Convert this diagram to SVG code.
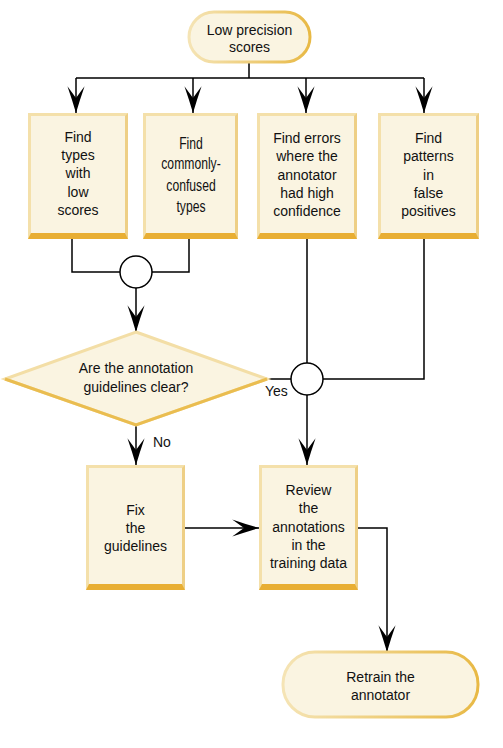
<svg xmlns="http://www.w3.org/2000/svg" width="503" height="748" viewBox="0 0 503 748">
<defs>
<linearGradient id="tg" x1="0" y1="0" x2="1" y2="0">
<stop offset="0" stop-color="#F5E4B5"/>
<stop offset="1" stop-color="#E8B945"/>
</linearGradient>
<marker id="ah" markerUnits="userSpaceOnUse" markerWidth="30" markerHeight="20" viewBox="-26 -9 28 18" refX="0" refY="0" orient="auto">
<path d="M0,0 Q-12,-3.5 -25,-8 L-14,0 L-25,8 Q-12,3.5 0,0 Z" fill="#000"/>
</marker>
<style>
text{font-family:"Liberation Sans",Arial,sans-serif;font-size:14px;fill:#111;text-anchor:middle}
.lbl{text-anchor:start}
.cond{font-size:16px}
.frame{fill:#F4E0AA}
.face{fill:#FAF4E1}
.rbev{fill:#EECF85}
.bbev{fill:#E8AE33}
.term{fill:#FAF4E1;stroke:url(#tg);stroke-width:3}
.ln{fill:none;stroke:#000;stroke-width:1.5}
.arr{fill:none;stroke:#000;stroke-width:1.5;marker-end:url(#ah)}
.jn{fill:#fff;stroke:#000;stroke-width:1.5}
</style>
</defs>

<g id="connectors">
<path class="ln" d="M249,62 V78 M76,78 H424"/>
<path class="arr" d="M76,78 V113"/>
<path class="arr" d="M193,78 V113"/>
<path class="arr" d="M306,78 V113"/>
<path class="arr" d="M424,78 V113"/>
<path class="ln" d="M72,239 V272 H120 M189,239 V272 H152"/>
<path class="arr" d="M136,288 V332"/>
<path class="ln" d="M267,379 H291 M307,239 V363 M424,239 V379 H323"/>
<path class="arr" d="M307,395 V465"/>
<path class="arr" d="M136,425 V465"/>
<path class="arr" d="M185,528 H259"/>
<path class="arr" d="M358,528 H387 V652"/>
<circle class="jn" cx="136" cy="272" r="16"/>
<circle class="jn" cx="307" cy="379" r="16"/>
<text class="lbl" x="265" y="396">Yes</text>
<text class="lbl" x="153" y="447">No</text>
</g>

<g id="start">
<rect class="term" x="189" y="12" width="121" height="50" rx="25"/>
<text x="249.5" y="35">Low precision</text>
<text x="249.5" y="52">scores</text>
</g>

<g id="box1">
<rect class="frame" x="28" y="113" width="100" height="126"/>
<polygon class="rbev" points="125,116 128,113 128,239 125,233"/>
<rect class="face" x="31" y="116" width="94" height="117"/>
<polygon class="bbev" points="31,233 125,233 128,239 28,239"/>
<text x="78" y="142">Find</text>
<text x="78" y="160">types</text>
<text x="78" y="178">with</text>
<text x="78" y="197">low</text>
<text x="78" y="215">scores</text>
</g>

<g id="box2">
<rect class="frame" x="143" y="113" width="95" height="126"/>
<polygon class="rbev" points="235,116 238,113 238,239 235,233"/>
<rect class="face" x="146" y="116" width="89" height="117"/>
<polygon class="bbev" points="146,233 235,233 238,239 143,239"/>
<g transform="translate(191,0) scale(0.76,1)">
<text class="cond" x="0" y="149">Find</text>
<text class="cond" x="0" y="169">commonly-</text>
<text class="cond" x="0" y="191">confused</text>
<text class="cond" x="0" y="212">types</text>
</g>
</g>

<g id="box3">
<rect class="frame" x="257" y="113" width="100" height="126"/>
<polygon class="rbev" points="354,116 357,113 357,239 354,233"/>
<rect class="face" x="260" y="116" width="94" height="117"/>
<polygon class="bbev" points="260,233 354,233 357,239 257,239"/>
<text x="307" y="143">Find errors</text>
<text x="307" y="161">where the</text>
<text x="307" y="180">annotator</text>
<text x="307" y="198">had high</text>
<text x="307" y="216">confidence</text>
</g>

<g id="box4">
<rect class="frame" x="378" y="113" width="101" height="126"/>
<polygon class="rbev" points="476,116 479,113 479,239 476,233"/>
<rect class="face" x="381" y="116" width="95" height="117"/>
<polygon class="bbev" points="381,233 476,233 479,239 378,239"/>
<text x="428.5" y="143">Find</text>
<text x="428.5" y="161">patterns</text>
<text x="428.5" y="180">in</text>
<text x="428.5" y="198">false</text>
<text x="428.5" y="216">positives</text>
</g>

<g id="decision">
<polygon points="136,332 267,379 136,425 5,379" fill="#FAF4E1" stroke="#F3DEA6" stroke-width="3" stroke-linejoin="miter"/>
<polyline points="5,379 136,425 267,379" fill="none" stroke="#EABD50" stroke-width="3"/>
<text x="136" y="373">Are the annotation</text>
<text x="136" y="392">guidelines clear?</text>
</g>

<g id="fix">
<rect class="frame" x="86" y="465" width="99" height="125"/>
<polygon class="rbev" points="182,468 185,465 185,590 182,584"/>
<rect class="face" x="89" y="468" width="93" height="116"/>
<polygon class="bbev" points="89,584 182,584 185,590 86,590"/>
<text x="135.5" y="515">Fix</text>
<text x="135.5" y="533">the</text>
<text x="135.5" y="551">guidelines</text>
</g>

<g id="review">
<rect class="frame" x="259" y="465" width="99" height="125"/>
<polygon class="rbev" points="355,468 358,465 358,590 355,584"/>
<rect class="face" x="262" y="468" width="93" height="116"/>
<polygon class="bbev" points="262,584 355,584 358,590 259,590"/>
<text x="308.5" y="495">Review</text>
<text x="308.5" y="513">the</text>
<text x="308.5" y="532">annotations</text>
<text x="308.5" y="550">in the</text>
<text x="308.5" y="568">training data</text>
</g>

<g id="end">
<rect class="term" x="283" y="652" width="195" height="65" rx="32"/>
<text x="380.5" y="682">Retrain the</text>
<text x="380.5" y="700">annotator</text>
</g>
</svg>
